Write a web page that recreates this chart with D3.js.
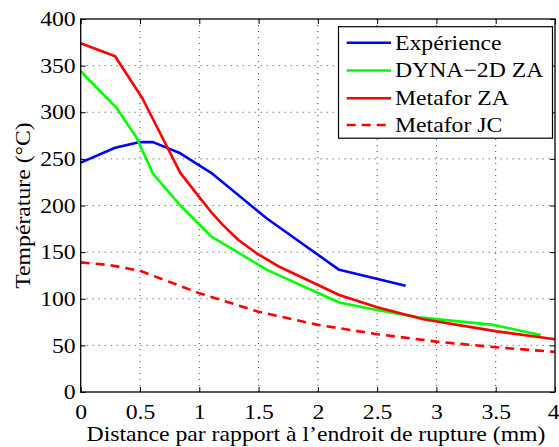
<!DOCTYPE html>
<html>
<head>
<meta charset="utf-8">
<script src="https://cdn.jsdelivr.net/npm/d3@7"></script>
<style>
  html, body { margin: 0; padding: 0; background: #fff; }
  svg text { font-family: "Liberation Serif", "Times New Roman", Times, "DejaVu Serif", serif !important; fill: #000; }
</style>
</head>
<body>
<svg id="chart" width="559" height="447"></svg>
<script>
// Temperature profiles vs. distance from the rupture point
const distExp  = [0, 0.29, 0.50, 0.61, 0.84, 1.10, 1.57, 2.18, 2.74];
const tempExp  = [246, 262, 268, 268, 256, 235, 186, 131, 114];

const distDyna = [0, 0.30, 0.47, 0.61, 0.84, 1.10, 1.57, 2.18, 2.50, 2.85, 3.48, 3.88];
const tempDyna = [344, 305, 273, 234, 200, 167, 131, 96, 88, 80, 72, 61];

const distZA   = [0, 0.29, 0.52, 0.84, 1.00, 1.10, 1.20, 1.33, 1.48, 1.68, 2.18, 2.50, 2.89, 3.51, 4.00];
const tempZA   = [374, 360, 315, 235, 209, 193, 179, 163, 149, 134, 104, 91, 78, 65, 56.5];

const distJC   = [0, 0.25, 0.50, 1.00, 1.50, 2.00, 2.50, 3.00, 3.50, 4.00];
const tempJC   = [139, 136, 130, 106, 86, 72, 62, 54, 48, 43];

const xTicks = [0, 0.5, 1, 1.5, 2, 2.5, 3, 3.5, 4];
const yTicks = [0, 50, 100, 150, 200, 250, 300, 350, 400];

const seriesNames = ["Expérience", "DYNA\u22122D ZA", "Metafor ZA", "Metafor JC"];
const seriesColors = ["#0000ff", "#00ff00", "#ff0000", "#ff0000"];
const seriesDashes = [null, null, null, "9,6"];
const seriesData = [
  [distExp, tempExp],
  [distDyna, tempDyna],
  [distZA, tempZA],
  [distJC, tempJC]
];

const xLabel = "Distance par rapport à l\u2019endroit de rupture (mm)";
const yLabel = "Température (°C)";

const W = 559, H = 447;
const m = { left: 80.7, right: 4, top: 19, bottom: 55 };
const FONT = 21, STRETCH = 1.13;
const FAMILY = '"Liberation Serif", "Times New Roman", Times, "DejaVu Serif", serif';

const svg = d3.select("#chart");
const x = d3.scaleLinear().domain([0, 4]).range([m.left, W - m.right]);
const y = d3.scaleLinear().domain([0, 400]).range([H - m.bottom, m.top]);

// widen glyphs horizontally around a given anchor x
function stretch(sel, ax) {
  sel.attr("transform", `translate(${ax},0) scale(${STRETCH},1) translate(${-ax},0)`);
}

svg.append("rect").attr("width", W).attr("height", H).attr("fill", "#fff");

// dotted grid
const grid = svg.append("g").attr("stroke", "#444").attr("stroke-width", 1)
  .attr("stroke-dasharray", "1,5");
grid.selectAll(".gx").data(xTicks.slice(1, -1)).join("line")
  .attr("x1", d => x(d)).attr("x2", d => x(d))
  .attr("y1", y(0)).attr("y2", y(400));
grid.selectAll(".gy").data(yTicks.slice(1, -1)).join("line")
  .attr("y1", d => y(d)).attr("y2", d => y(d))
  .attr("x1", x(0)).attr("x2", x(4));

// axes with inward ticks on all four sides
const tickLen = 5;
const axB = svg.append("g").attr("transform", `translate(0,${y(0)})`)
  .call(d3.axisBottom(x).tickValues(xTicks).tickSizeInner(-tickLen).tickSizeOuter(0)
    .tickPadding(12).tickFormat(d3.format("")));
const axT = svg.append("g").attr("transform", `translate(0,${y(400)})`)
  .call(d3.axisTop(x).tickValues(xTicks).tickSizeInner(-tickLen).tickSizeOuter(0)
    .tickFormat(""));
const axL = svg.append("g").attr("transform", `translate(${x(0)},0)`)
  .call(d3.axisLeft(y).tickValues(yTicks).tickSizeInner(-tickLen).tickSizeOuter(0)
    .tickPadding(5));
const axR = svg.append("g").attr("transform", `translate(${x(4)},0)`)
  .call(d3.axisRight(y).tickValues(yTicks).tickSizeInner(-tickLen).tickSizeOuter(0)
    .tickFormat(""));

[axB, axT, axL, axR].forEach(a => {
  a.attr("font-family", FAMILY).attr("font-size", FONT);
  a.select(".domain").remove();
  a.selectAll("line").attr("stroke", "#000").attr("stroke-width", 1);
  a.selectAll("text").attr("fill", "#000");
});
axB.selectAll("text").each(function () { stretch(d3.select(this), 0); });
// keep the last x label inside the canvas
axB.selectAll(".tick").filter(d => d === 4).select("text").attr("text-anchor", "end").attr("x", 4);
axB.selectAll(".tick").filter(d => d === 4).select("text").each(function () { stretch(d3.select(this), 4); });
axL.selectAll("text").each(function () {
  const t = d3.select(this); stretch(t, +t.attr("x"));
});

// curves
const line = d3.line();
seriesData.forEach((s, i) => {
  const pts = s[0].map((d, k) => [x(d), y(s[1][k])]);
  svg.append("path").attr("d", line(pts))
    .attr("fill", "none").attr("stroke", seriesColors[i]).attr("stroke-width", 2.6)
    .attr("stroke-linejoin", "round")
    .attr("stroke-dasharray", seriesDashes[i]);
});

// plot frame
svg.append("rect").attr("x", x(0)).attr("y", y(400))
  .attr("width", x(4) - x(0)).attr("height", y(0) - y(400))
  .attr("fill", "none").attr("stroke", "#000").attr("stroke-width", 1.3);

// legend
const lg = svg.append("g").attr("font-family", FAMILY);
lg.append("rect").attr("x", 338.5).attr("y", 26.7).attr("width", 214).attr("height", 111.5)
  .attr("fill", "#fff").attr("stroke", "#000").attr("stroke-width", 1.2);
const rowY = [42.7, 70.5, 98.2, 125];
seriesNames.forEach((name, i) => {
  lg.append("line").attr("x1", 346.7).attr("x2", 391).attr("y1", rowY[i]).attr("y2", rowY[i])
    .attr("stroke", seriesColors[i]).attr("stroke-width", 2.6)
    .attr("stroke-dasharray", seriesDashes[i]);
  const t = lg.append("text").attr("x", 395).attr("y", rowY[i] + 7)
    .attr("font-size", FONT).text(name);
  stretch(t, 395);
});

// axis titles
const xlCenter = 316;
const xl = svg.append("text").attr("x", xlCenter).attr("y", 441)
  .attr("font-family", FAMILY)
  .attr("text-anchor", "middle").attr("font-size", FONT).text(xLabel);
stretch(xl, xlCenter);

svg.append("text")
  .attr("transform", `translate(30,${(y(0) + y(400)) / 2}) rotate(-90) scale(${STRETCH},1)`)
  .attr("font-family", FAMILY)
  .attr("text-anchor", "middle").attr("font-size", FONT).text(yLabel);
</script>
</body>
</html>
